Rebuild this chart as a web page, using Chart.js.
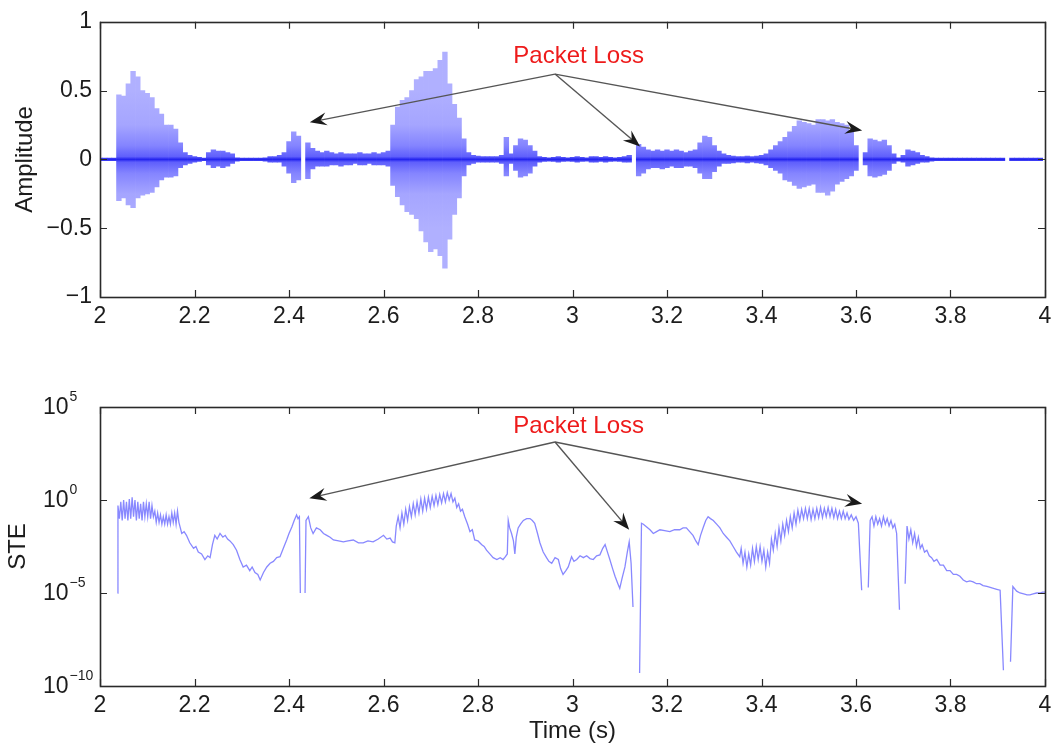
<!DOCTYPE html>
<html>
<head>
<meta charset="utf-8">
<script src="https://cdn.jsdelivr.net/npm/chart.js@4.4.0/dist/chart.umd.min.js"></script>
<style>
  body { margin: 0; background: #fff; overflow: hidden; }
  #amp { position: absolute; left: 0; top: 0; }
  #ste { position: absolute; left: 0; top: 340px; }
</style>
</head>
<body>
<canvas id="amp" width="1060" height="340"></canvas>
<canvas id="ste" width="1060" height="410"></canvas>
<script>
// time axis
const timeTicks = [2, 2.2, 2.4, 2.6, 2.8, 3, 3.2, 3.4, 3.6, 3.8, 4];
const timeTickLabels = ['2', '2.2', '2.4', '2.6', '2.8', '3', '3.2', '3.4', '3.6', '3.8', '4'];
const ampTicks = [-1, -0.5, 0, 0.5, 1];
const ampTickLabels = ['\u22121', '\u22120.5', '0', '0.5', '1'];
const steTicks = [1e-10, 1e-5, 1, 1e5];

// waveform envelope, one bin every 10 ms from 2.00 s (null = lost packet)
const ampStart = 2.0;
const ampStep = 0.01;
const ampHi = [
  0.01, 0.01, 0.01, 0.01, 0.47, 0.46, 0.55, 0.64, 0.60, 0.50,
  0.48, 0.45, 0.37, 0.33, 0.25, 0.25, 0.22, 0.12, 0.05, 0.03,
  0.02, 0.015, 0.01, 0.05, 0.07, 0.06, 0.06, 0.05, 0.04, 0.012,
  0.01, 0.01, 0.01, 0.01, 0.01, 0.012, 0.02, 0.02, 0.03, 0.05,
  0.13, 0.20, 0.17, null, 0.12, 0.08, 0.06, 0.05, 0.06, 0.05,
  0.04, 0.05, 0.04, 0.04, 0.04, 0.05, 0.04, 0.04, 0.05, 0.04,
  0.05, 0.06, 0.25, 0.38, 0.43, 0.45, 0.50, 0.58, 0.60, 0.64,
  0.64, 0.66, 0.72, 0.78, 0.55, 0.40, 0.30, 0.15, 0.05, 0.03,
  0.025, 0.02, 0.02, 0.02, 0.02, 0.03, 0.16, 0.04, 0.10, 0.15,
  0.14, 0.10, 0.06, 0.02, 0.015, 0.012, 0.015, 0.02, 0.015, 0.012,
  0.015, 0.02, 0.015, 0.012, 0.02, 0.02, 0.015, 0.02, 0.015, 0.012,
  0.015, 0.02, 0.03, null, 0.11, 0.09, 0.07, 0.06, 0.07, 0.06,
  0.07, 0.06, 0.07, 0.06, 0.05, 0.06, 0.07, 0.12, 0.17, 0.16,
  0.10, 0.06, 0.04, 0.03, 0.025, 0.02, 0.02, 0.025, 0.02, 0.025,
  0.03, 0.04, 0.07, 0.10, 0.13, 0.16, 0.20, 0.24, 0.28, 0.27,
  0.26, 0.25, 0.29, 0.29, 0.28, 0.29, 0.27, 0.26, 0.25, 0.20,
  0.10, null, 0.05, 0.15, 0.14, 0.13, 0.14, 0.10, 0.04, 0.012,
  0.03, 0.07, 0.06, 0.05, 0.03, 0.02, 0.012, 0.01, 0.01, 0.01,
  0.01, 0.01, 0.01, 0.01, 0.01, 0.01, 0.01, 0.01, 0.01, 0.01,
  0.01, 0.01, null, 0.01, 0.01, 0.01, 0.01, 0.01, 0.01, 0.01
];
const ampLo = [
  -0.01, -0.01, -0.01, -0.01, -0.30, -0.28, -0.33, -0.35, -0.28, -0.26,
  -0.25, -0.24, -0.20, -0.15, -0.13, -0.13, -0.12, -0.06, -0.04, -0.03,
  -0.02, -0.015, -0.01, -0.04, -0.06, -0.05, -0.06, -0.05, -0.03, -0.012,
  -0.01, -0.01, -0.01, -0.01, -0.01, -0.012, -0.02, -0.02, -0.02, -0.05,
  -0.10, -0.17, -0.15, null, -0.14, -0.07, -0.05, -0.05, -0.05, -0.04,
  -0.04, -0.05, -0.04, -0.04, -0.03, -0.04, -0.04, -0.03, -0.04, -0.04,
  -0.04, -0.05, -0.19, -0.27, -0.33, -0.38, -0.40, -0.43, -0.52, -0.60,
  -0.67, -0.65, -0.70, -0.79, -0.58, -0.40, -0.28, -0.12, -0.04, -0.03,
  -0.02, -0.02, -0.02, -0.02, -0.02, -0.03, -0.12, -0.03, -0.08, -0.13,
  -0.12, -0.10, -0.05, -0.02, -0.015, -0.012, -0.015, -0.02, -0.015, -0.012,
  -0.015, -0.02, -0.015, -0.012, -0.02, -0.02, -0.015, -0.02, -0.015, -0.012,
  -0.015, -0.02, -0.02, null, -0.12, -0.10, -0.07, -0.06, -0.06, -0.07,
  -0.06, -0.05, -0.06, -0.06, -0.05, -0.05, -0.06, -0.10, -0.14, -0.14,
  -0.09, -0.05, -0.03, -0.03, -0.025, -0.02, -0.02, -0.025, -0.02, -0.025,
  -0.03, -0.04, -0.06, -0.08, -0.10, -0.15, -0.16, -0.19, -0.21, -0.20,
  -0.19, -0.18, -0.24, -0.24, -0.26, -0.23, -0.18, -0.16, -0.14, -0.12,
  -0.08, null, -0.04, -0.12, -0.13, -0.12, -0.11, -0.08, -0.03, -0.012,
  -0.02, -0.05, -0.04, -0.03, -0.02, -0.02, -0.012, -0.01, -0.01, -0.01,
  -0.01, -0.01, -0.01, -0.01, -0.01, -0.01, -0.01, -0.01, -0.01, -0.01,
  -0.01, -0.01, null, -0.01, -0.01, -0.01, -0.01, -0.01, -0.01, -0.01
];

// short-time energy trace, read as log10 values (null = gap)
const steTime = [
  2.037, 2.038, 2.041, 2.044, 2.047, 2.050, 2.053, 2.056, 2.059, 2.062,
  2.065, 2.068, 2.071, 2.074, 2.077, 2.080, 2.083, 2.086, 2.089, 2.092,
  2.095, 2.098, 2.101, 2.104, 2.107, 2.110, 2.113, 2.116, 2.119, 2.122,
  2.125, 2.128, 2.131, 2.134, 2.137, 2.140, 2.143, 2.146, 2.149, 2.152,
  2.155, 2.158, 2.161, 2.164, 2.167, 2.170, 2.173, 2.178, 2.183, 2.190,
  2.198, 2.203, 2.208, 2.215, 2.222, 2.228, 2.233, 2.238, 2.243, 2.248,
  2.254, 2.260, 2.265, 2.270, 2.275, 2.282, 2.289, 2.296, 2.303, 2.310,
  2.317, 2.322, 2.328, 2.334, 2.339, 2.346, 2.353, 2.360, 2.367, 2.374,
  2.381, 2.388, 2.395, 2.400, 2.406, 2.411, 2.416, 2.419, 2.422, 2.424,
  2.425, 2.434, 2.436, 2.441, 2.446, 2.451, 2.458, 2.466, 2.473, 2.480,
  2.487, 2.494, 2.505, 2.515, 2.525, 2.536, 2.547, 2.557, 2.567, 2.578,
  2.589, 2.600, 2.607, 2.614, 2.619, 2.624, 2.627, 2.631, 2.635, 2.639,
  2.643, 2.647, 2.651, 2.655, 2.659, 2.663, 2.667, 2.671, 2.675, 2.679,
  2.683, 2.687, 2.691, 2.695, 2.699, 2.703, 2.707, 2.711, 2.715, 2.719,
  2.723, 2.727, 2.731, 2.735, 2.739, 2.743, 2.747, 2.751, 2.755, 2.759,
  2.763, 2.767, 2.772, 2.778, 2.783, 2.788, 2.793, 2.800, 2.808, 2.813,
  2.818, 2.825, 2.832, 2.840, 2.847, 2.853, 2.858, 2.862, 2.864, 2.867,
  2.871, 2.875, 2.878, 2.881, 2.885, 2.890, 2.896, 2.903, 2.910, 2.915,
  2.920, 2.926, 2.931, 2.938, 2.945, 2.950, 2.956, 2.963, 2.970, 2.975,
  2.980, 2.986, 2.991, 2.998, 3.003, 3.009, 3.016, 3.023, 3.030, 3.037,
  3.044, 3.051, 3.058, 3.064, 3.069, 3.074, 3.079, 3.085, 3.090, 3.096,
  3.100, 3.105, 3.111, 3.116, 3.120, 3.124, 3.128, 3.129, 3.142, 3.146,
  3.150, 3.157, 3.164, 3.171, 3.178, 3.185, 3.195, 3.206, 3.216, 3.227,
  3.234, 3.241, 3.248, 3.255, 3.261, 3.266, 3.271, 3.277, 3.282, 3.287,
  3.292, 3.298, 3.305, 3.312, 3.319, 3.326, 3.333, 3.340, 3.347, 3.354,
  3.357, 3.361, 3.365, 3.369, 3.373, 3.377, 3.381, 3.385, 3.389, 3.393,
  3.397, 3.401, 3.405, 3.409, 3.413, 3.417, 3.421, 3.425, 3.429, 3.433,
  3.437, 3.441, 3.445, 3.449, 3.453, 3.457, 3.461, 3.465, 3.469, 3.473,
  3.477, 3.481, 3.485, 3.489, 3.493, 3.497, 3.501, 3.505, 3.509, 3.513,
  3.517, 3.521, 3.525, 3.529, 3.533, 3.537, 3.541, 3.545, 3.549, 3.553,
  3.557, 3.561, 3.565, 3.569, 3.573, 3.577, 3.581, 3.585, 3.590, 3.595,
  3.600, 3.605, 3.612, 3.613, 3.626, 3.630, 3.634, 3.638, 3.642, 3.646,
  3.650, 3.654, 3.658, 3.662, 3.666, 3.670, 3.674, 3.678, 3.682, 3.686,
  3.692, 3.693, 3.704, 3.708, 3.712, 3.716, 3.720, 3.724, 3.728, 3.732,
  3.736, 3.740, 3.745, 3.750, 3.755, 3.760, 3.765, 3.771, 3.778, 3.785,
  3.792, 3.799, 3.806, 3.813, 3.820, 3.827, 3.834, 3.841, 3.848, 3.855,
  3.862, 3.869, 3.877, 3.884, 3.891, 3.898, 3.905, 3.912, 3.913, 3.927,
  3.932, 3.940, 3.947, 3.955, 3.962, 3.968, 3.975, 3.982, 3.989, 3.995,
  4.000
];
const steLog10 = [
  -5.0, -0.3, -1.0, -0.1, -1.1, 0.0, -1.0, -0.1, -1.1, 0.05,
  -1.0, 0.15, -0.9, 0.0, -1.1, -0.1, -1.0, -0.2, -1.1, -0.1,
  -0.9, -0.2, -0.9, -0.1, -1.0, -0.3, -0.9, -0.6, -1.2, -0.7,
  -1.2, -0.8, -1.3, -0.9, -1.3, -0.8, -1.3, -0.9, -1.3, -0.7,
  -1.2, -0.7, -1.3, -0.6, -1.2, -1.5, -1.8, -1.7, -1.9, -2.3,
  -2.6, -2.5, -2.8, -2.9, -3.2, -3.0, -3.1, -2.4, -1.9, -2.1,
  -1.8, -2.0, -1.9, -2.1, -2.2, -2.4, -2.7, -3.2, -3.6, -3.5,
  -3.8, -3.6, -3.9, -4.0, -4.3, -3.9, -3.6, -3.4, -3.3, -3.1,
  -3.05, -2.6, -2.15, -1.8, -1.45, -1.1, -0.8, -1.0, -0.9, -5.0,
  null, -5.0, -1.1, -0.9, -1.5, -1.8, -1.5, -1.6, -1.8, -1.9,
  -2.0, -2.15, -2.2, -2.25, -2.2, -2.15, -2.3, -2.3, -2.2, -2.25,
  -2.1, -1.9, -2.1, -2.05, -2.25, -2.3, -1.4, -0.9, -1.5, -0.7,
  -1.3, -0.5, -1.1, -0.35, -0.9, -0.2, -0.8, -0.1, -0.7, 0.05,
  -0.6, 0.1, -0.5, 0.15, -0.4, 0.2, -0.3, 0.25, -0.25, 0.3,
  -0.15, 0.35, -0.1, 0.4, 0.0, 0.35, -0.1, 0.1, -0.4, -0.2,
  -0.6, -0.5, -0.9, -1.3, -1.7, -1.6, -2.15, -2.2, -2.4, -2.5,
  -2.7, -2.9, -3.1, -3.2, -3.1, -3.2, -3.05, -2.9, -1.1, -1.5,
  -1.8, -2.2, -2.9, -2.0, -1.5, -1.3, -1.1, -1.0, -1.0, -1.1,
  -1.25, -1.8, -2.3, -2.8, -3.1, -3.3, -3.4, -3.1, -3.2, -3.7,
  -4.0, -3.8, -3.6, -3.05, -3.3, -3.2, -3.0, -3.1, -3.0, -3.15,
  -3.2, -3.0, -2.95, -2.6, -2.4, -2.8, -3.2, -3.7, -4.1, -4.5,
  -4.75, -4.2, -3.6, -2.8, -2.25, -3.4, -5.75, null, -9.3, -1.25,
  -1.3, -1.45, -1.6, -1.8, -1.7, -1.6, -1.65, -1.7, -1.6, -1.6,
  -1.5, -1.5, -1.7, -1.9, -2.2, -2.4, -1.9, -1.45, -1.1, -0.9,
  -1.0, -1.1, -1.3, -1.5, -1.8, -2.0, -2.2, -2.5, -2.8, -3.05,
  -2.6, -3.4, -2.8, -3.6, -2.9, -3.5, -2.6, -3.3, -2.5, -3.2,
  -2.5, -3.3, -2.7, -3.6, -2.8, -3.4, -2.1, -2.7, -1.8, -2.5,
  -1.5, -2.2, -1.3, -1.9, -1.1, -1.7, -0.9, -1.5, -0.7, -1.3,
  -0.55, -1.1, -0.5, -1.0, -0.45, -1.0, -0.45, -1.05, -0.5, -1.0,
  -0.45, -0.95, -0.4, -0.95, -0.45, -0.9, -0.4, -0.9, -0.45, -0.95,
  -0.5, -1.0, -0.6, -1.0, -0.6, -1.0, -0.7, -1.05, -0.8, -1.1,
  -0.9, -1.25, -4.85, null, -4.7, -1.1, -0.9, -1.4, -0.9, -1.3,
  -1.0, -1.4, -0.9, -1.3, -1.0, -1.4, -1.1, -1.5, -1.3, -1.8,
  -5.9, null, -4.5, -1.4, -2.1, -1.6, -2.3, -1.8, -2.5, -2.0,
  -2.6, -2.4, -2.8, -2.7, -3.0, -3.1, -3.3, -3.2, -3.5, -3.5,
  -3.8, -3.8, -4.0, -4.0, -4.1, -4.3, -4.4, -4.35, -4.4, -4.5,
  -4.5, -4.6, -4.65, -4.7, -4.75, -4.8, -4.85, -9.15, null, -8.7,
  -4.65, -4.9, -5.0, -5.05, -5.1, -5.1, -5.05, -5.0, -5.0, -4.95,
  -4.95
];

const FONT = '"Liberation Sans", Arial, Helvetica, sans-serif';
const INK = '#1c1c1c';

function drawArrow(ctx, x0, y0, x1, y1) {
  const ang = Math.atan2(y1 - y0, x1 - x0);
  const len = 17, half = 6.5, notch = 11;
  ctx.strokeStyle = '#555';
  ctx.lineWidth = 1.4;
  ctx.beginPath();
  ctx.moveTo(x0, y0);
  ctx.lineTo(x1 - Math.cos(ang) * notch, y1 - Math.sin(ang) * notch);
  ctx.stroke();
  ctx.save();
  ctx.translate(x1, y1);
  ctx.rotate(ang);
  ctx.fillStyle = '#1a1a1a';
  ctx.beginPath();
  ctx.moveTo(0, 0);
  ctx.lineTo(-len, -half);
  ctx.lineTo(-notch, 0);
  ctx.lineTo(-len, half);
  ctx.closePath();
  ctx.fill();
  ctx.restore();
}

// box, inward ticks, log labels and the "Packet Loss" note
const matlabAxes = {
  id: 'matlabAxes',
  afterDraw(chart, args, opts) {
    const { ctx, chartArea: a, scales: { x, y } } = chart;
    ctx.save();
    ctx.strokeStyle = '#2a2a2a';
    ctx.lineWidth = 1.2;
    ctx.beginPath();
    opts.xTicks.forEach(v => {
      const px = Math.round(x.getPixelForValue(v)) + 0.5;
      ctx.moveTo(px, a.bottom); ctx.lineTo(px, a.bottom - 7);
      ctx.moveTo(px, a.top); ctx.lineTo(px, a.top + 7);
    });
    opts.yTicks.forEach(v => {
      const py = Math.round(y.getPixelForValue(v)) + 0.5;
      ctx.moveTo(a.left, py); ctx.lineTo(a.left + 7, py);
      ctx.moveTo(a.right, py); ctx.lineTo(a.right - 7, py);
    });
    ctx.stroke();
    ctx.lineWidth = 1.6;
    ctx.strokeRect(Math.round(a.left) + 0.5, Math.round(a.top) + 0.5,
      Math.round(a.right - a.left), Math.round(a.bottom - a.top));

    if (opts.logLabels) {
      ctx.fillStyle = INK;
      ctx.textAlign = 'left';
      ctx.textBaseline = 'middle';
      opts.yTicks.forEach(v => {
        const py = y.getPixelForValue(v);
        const e = Math.round(Math.log10(v));
        ctx.font = '23px ' + FONT;
        ctx.fillText('10', 43, py + 1);
        const w = ctx.measureText('10').width;
        ctx.font = '14px ' + FONT;
        ctx.fillText((e < 0 ? '\u2212' : '') + Math.abs(e), 43 + w + 1, py - 10);
      });
    }

    const n = opts.note;
    if (n) {
      const sx = x.getPixelForValue(n.from[0]);
      const sy = y.getPixelForValue(n.from[1]);
      n.tips.forEach(t => drawArrow(ctx, sx, sy, x.getPixelForValue(t[0]), y.getPixelForValue(t[1])));
      ctx.fillStyle = '#ee1b1b';
      ctx.font = '24px ' + FONT;
      ctx.textAlign = 'center';
      ctx.textBaseline = 'middle';
      ctx.fillText(n.text, x.getPixelForValue(n.at[0]), y.getPixelForValue(n.at[1]));
    }
    ctx.restore();
  }
};

// light envelope with a denser, darker core around zero
function ampFill(context) {
  const chart = context.chart;
  if (!chart.chartArea) return 'rgb(165,165,255)';
  const ys = chart.scales.y;
  const g = chart.ctx.createLinearGradient(0, ys.getPixelForValue(0.5), 0, ys.getPixelForValue(-0.5));
  g.addColorStop(0, 'rgb(176,176,255)');
  g.addColorStop(0.25, 'rgb(165,165,255)');
  g.addColorStop(0.4, 'rgb(132,132,255)');
  g.addColorStop(0.48, 'rgb(95,95,252)');
  g.addColorStop(0.5, 'rgb(35,35,238)');
  g.addColorStop(0.52, 'rgb(95,95,252)');
  g.addColorStop(0.6, 'rgb(132,132,255)');
  g.addColorStop(0.75, 'rgb(165,165,255)');
  g.addColorStop(1, 'rgb(176,176,255)');
  return g;
}

const tickFont = { family: FONT, size: 23 };
const titleFont = { family: FONT, size: 24 };

const ampData = ampHi.map((hi, i) => ({
  x: +(ampStart + i * ampStep).toFixed(3),
  y: hi === null ? null : [ampLo[i], hi]
}));

new Chart(document.getElementById('amp'), {
  type: 'bar',
  data: {
    datasets: [{
      data: ampData,
      backgroundColor: ampFill,
      borderWidth: 0,
      barPercentage: 1,
      categoryPercentage: 1
    }]
  },
  options: {
    responsive: false,
    animation: false,
    layout: { padding: { top: 19, right: 15, left: 0, bottom: 0 } },
    plugins: {
      legend: { display: false },
      tooltip: { enabled: false },
      matlabAxes: {
        xTicks: timeTicks,
        yTicks: ampTicks,
        note: {
          text: 'Packet Loss',
          at: [3.013, 0.75],
          from: [2.963, 0.62],
          tips: [[2.444, 0.27], [3.143, 0.094], [3.613, 0.21]]
        }
      }
    },
    scales: {
      x: {
        type: 'linear', min: 2, max: 4, offset: false,
        grid: { display: false, drawTicks: false },
        border: { display: false },
        afterBuildTicks: s => { s.ticks = timeTicks.map(v => ({ value: v })); },
        ticks: { padding: 6, font: tickFont, color: INK, maxRotation: 0, autoSkip: false,
          callback: (v, i) => timeTickLabels[i] },
        afterFit: s => { s.height = 43; }
      },
      y: {
        min: -1, max: 1,
        grid: { display: false, drawTicks: false },
        border: { display: false },
        afterBuildTicks: s => { s.ticks = ampTicks.map(v => ({ value: v })); },
        ticks: { padding: 8, font: tickFont, color: INK, autoSkip: false,
          callback: (v, i) => ampTickLabels[i] },
        title: { display: true, text: 'Amplitude', font: titleFont, color: INK, padding: { top: 11 } },
        afterFit: s => { s.width = 100; }
      }
    }
  },
  plugins: [matlabAxes]
});

const steData = steTime.map((t, i) => ({
  x: t,
  y: steLog10[i] === null ? null : Math.pow(10, steLog10[i])
}));

new Chart(document.getElementById('ste'), {
  type: 'line',
  data: {
    datasets: [{
      data: steData,
      borderColor: 'rgba(80,80,255,0.68)',
      borderWidth: 1.3,
      pointRadius: 0,
      tension: 0,
      spanGaps: false
    }]
  },
  options: {
    responsive: false,
    animation: false,
    layout: { padding: { top: 67, right: 15, left: 0, bottom: 0 } },
    plugins: {
      legend: { display: false },
      tooltip: { enabled: false },
      matlabAxes: {
        xTicks: timeTicks,
        yTicks: steTicks,
        logLabels: true,
        note: {
          text: 'Packet Loss',
          at: [3.013, Math.pow(10, 3.98)],
          from: [2.963, Math.pow(10, 3.12)],
          tips: [[2.443, Math.pow(10, 0.1)], [3.12, Math.pow(10, -1.6)], [3.613, Math.pow(10, -0.2)]]
        }
      }
    },
    scales: {
      x: {
        type: 'linear', min: 2, max: 4, offset: false,
        grid: { display: false, drawTicks: false },
        border: { display: false },
        afterBuildTicks: s => { s.ticks = timeTicks.map(v => ({ value: v })); },
        ticks: { padding: 6, font: tickFont, color: INK, maxRotation: 0, autoSkip: false,
          callback: (v, i) => timeTickLabels[i] },
        title: { display: true, text: 'Time (s)', font: titleFont, color: INK, padding: { bottom: 4 } },
        afterFit: s => { s.height = 64; }
      },
      y: {
        type: 'logarithmic', min: 1e-10, max: 1e5,
        grid: { display: false, drawTicks: false },
        border: { display: false },
        afterBuildTicks: s => { s.ticks = steTicks.map(v => ({ value: v })); },
        ticks: { display: false },
        title: { display: true, text: 'STE', font: titleFont, color: INK, padding: { top: 4 } },
        afterFit: s => { s.width = 100; }
      }
    }
  },
  plugins: [matlabAxes]
});
</script>
</body>
</html>
